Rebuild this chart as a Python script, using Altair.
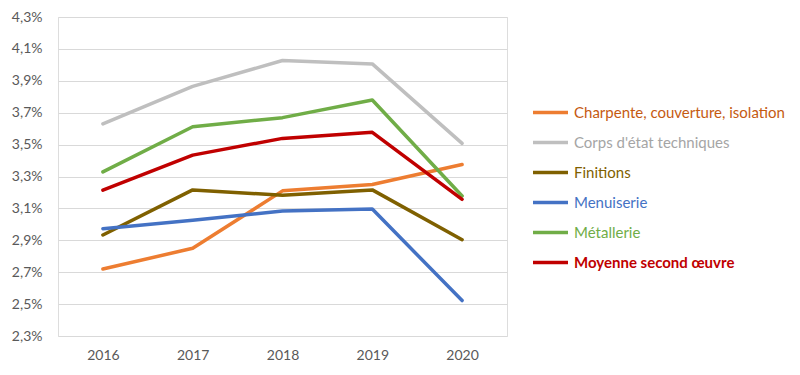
import altair as alt
import pandas as pd

years = ["2016", "2017", "2018", "2019", "2020"]
series_names = [
    "Charpente, couverture, isolation",
    "Corps d'état techniques",
    "Finitions",
    "Menuiserie",
    "Métallerie",
    "Moyenne second œuvre",
]
charpente = [2.72, 2.85, 3.21, 3.25, 3.375]
corps = [3.63, 3.865, 4.027, 4.006, 3.508]
finitions = [2.933, 3.216, 3.182, 3.216, 2.904]
menuiserie = [2.973, 3.025, 3.084, 3.096, 2.522]
metallerie = [3.329, 3.612, 3.669, 3.78, 3.178]
moyenne = [3.214, 3.434, 3.539, 3.577, 3.157]
line_colors = ["#ED7D31", "#BFBFBF", "#7F6000", "#4472C4", "#70AD47", "#C00000"]
label_colors = ["#C55A11", "#A5A5A5", "#7F6000", "#4472C4", "#70AD47", "#C00000"]
widths = [3.5, 3.5, 3.5, 3.5, 3.5, 5]
y_ticks = [2.3, 2.5, 2.7, 2.9, 3.1, 3.3, 3.5, 3.7, 3.9, 4.1, 4.3]

all_vals = [charpente, corps, finitions, menuiserie, metallerie, moyenne]
rows = []
for name, vals in zip(series_names, all_vals):
    for y, v in zip(years, vals):
        rows.append({"Année": y, "Série": name, "Valeur": v})
df = pd.DataFrame(rows)

fill_expr = "".join(
    f"datum.label === '{n.replace(chr(39), chr(92) + chr(39))}' ? '{c}' : "
    for n, c in zip(series_names, label_colors)
) + "'#000000'"
weight_expr = "datum.label === 'Moyenne second œuvre' ? 'bold' : 'normal'"

chart = (
    alt.Chart(df)
    .mark_line(strokeCap="round", strokeJoin="round")
    .encode(
        x=alt.X(
            "Année:O",
            scale=alt.Scale(padding=0.5),
            axis=alt.Axis(
                title=None,
                labelAngle=0,
                domain=False,
                ticks=False,
                labelPadding=12,
                labelFont="Lato",
                labelFontSize=14,
                labelColor="#595959",
            ),
        ),
        y=alt.Y(
            "Valeur:Q",
            scale=alt.Scale(domain=[2.3, 4.3], nice=False, zero=False),
            axis=alt.Axis(
                title=None,
                values=y_ticks,
                domain=False,
                ticks=False,
                labelPadding=16,
                labelExpr="replace(format(datum.value, '.1f'), '.', ',') + '%'",
                labelFont="Lato",
                labelFontSize=14,
                labelColor="#595959",
                gridColor="#D9D9D9",
                gridWidth=1,
            ),
        ),
        color=alt.Color(
            "Série:N",
            scale=alt.Scale(domain=series_names, range=line_colors),
            sort=series_names,
            legend=alt.Legend(
                title=None,
                orient="none",
                legendX=473,
                legendY=76,
                padding=0,
                symbolType="stroke",
                symbolSize=1225,
                symbolStrokeWidth=4.5,
                labelFont="Lato",
                labelFontSize=15,
                labelOffset=4,
                rowPadding=2,
                labelLimit=300,
                labelColor=alt.ExprRef(fill_expr),
                labelFontWeight=alt.ExprRef(weight_expr),
            ),
        ),
        strokeWidth=alt.StrokeWidth(
            "Série:N",
            scale=alt.Scale(domain=series_names, range=widths),
            legend=None,
        ),
    )
    .properties(
        width=449,
        height=319,
        padding={"left": 58, "top": 17, "right": 293, "bottom": 39},
        autosize=alt.AutoSizeParams(type="none"),
    )
    .configure_view(stroke=None)
    .configure(background="white")
)

chart.save("out.html", embed_options={"renderer": "svg", "actions": False})
